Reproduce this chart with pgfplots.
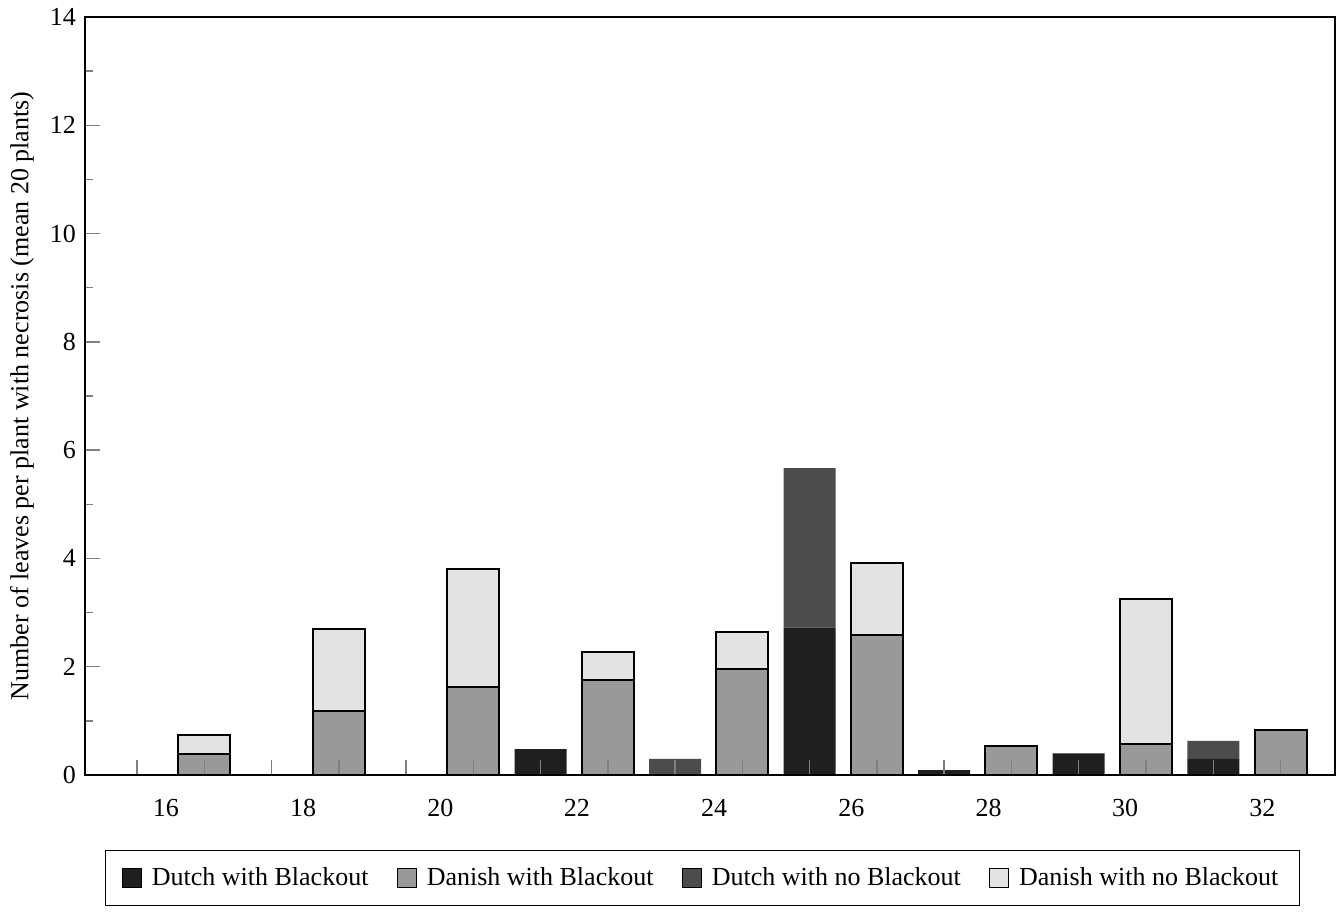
\documentclass[border=0pt]{standalone}
\usepackage{fontspec}
\setmainfont{Liberation Serif}
\usepackage{pgfplots}
\usepackage{pgfplotstable}
\pgfplotsset{compat=1.18}

\definecolor{dutchbo}{gray}{0.12}
\definecolor{dutchnobo}{gray}{0.30}
\definecolor{danishbo}{gray}{0.60}
\definecolor{danishnobo}{gray}{0.89}

% Mean number of necrotic leaves per plant, by week.
% Dutch bars sit at position week-16, Danish bars at week-15.
\pgfplotstableread{
week bo   nobo
22   0.48 0.00
24   0.00 0.30
26   2.72 2.95
28   0.09 0.00
30   0.40 0.00
32   0.30 0.33
}\dutch
\pgfplotstableread{
week bo   nobo
16   0.39 0.34
18   1.19 1.50
20   1.63 2.17
22   1.75 0.52
24   1.96 0.69
26   2.59 1.32
28   0.54 0.00
30   0.57 2.68
32   0.84 0.00
}\danish

\pgfplotsset{
  necrosis/.style={
    scale only axis, width=500pt, height=303.2pt,
    xmin=-0.773, xmax=17.81, ymin=0, ymax=14,
    ybar stacked, bar width=20.8pt,
  },
}

\begin{document}
\fontsize{10.4}{12.5}\selectfont
\begin{tikzpicture}
% Dutch stacks
\begin{axis}[necrosis, hide axis]
  \addplot[fill=dutchbo, draw=none]
    table[x expr=\thisrow{week}-16, y=bo]{\dutch};
  \addplot[fill=dutchnobo, draw=none]
    table[x expr=\thisrow{week}-16, y=nobo]{\dutch};
\end{axis}
% Danish stacks, axes and legend
\begin{axis}[necrosis,
  axis on top,
  axis line style={line width=0.8pt},
  tick align=inside,
  xtick pos=left, ytick pos=left,
  major tick length=6pt, minor tick length=3.2pt,
  xtick={0,...,17}, xticklabels={},
  xtick style={line width=0.6pt},
  extra x ticks={0.43,2.47,4.51,6.54,8.58,10.62,12.66,14.69,16.73},
  extra x tick labels={16,18,20,22,24,26,28,30,32},
  extra x tick style={major tick length=0pt, xtick style={draw=none}},
  xticklabel style={anchor=center, yshift=-13.2pt},
  ytick={0,2,...,14}, minor y tick num=1,
  ytick style={line width=0.6pt},
  /pgf/number format/assume math mode=true,
  ylabel={Number of leaves per plant with necrosis (mean 20 plants)},
  ylabel style={at={(axis description cs:-0.0504,0.5)}, anchor=center},
  legend columns=-1,
  legend image code/.code={\draw[#1, line width=0.5pt] (0pt,-3.8pt) rectangle (7.6pt,3.8pt);},
  legend style={at={(0.494,-0.0989)}, anchor=north, draw=black, line width=0.6pt,
    inner xsep=6.4pt, inner ysep=4.6pt,
    /tikz/every odd column/.append style={column sep=2pt},
    /tikz/every even column/.append style={column sep=9.2pt}},
]
  \addlegendimage{fill=dutchbo, draw=black}
  \addlegendentry{Dutch with Blackout}
  \addplot[fill=danishbo, draw=black, line width=0.8pt]
    table[x expr=\thisrow{week}-15, y=bo]{\danish};
  \addlegendentry{Danish with Blackout}
  \addlegendimage{fill=dutchnobo, draw=black}
  \addlegendentry{Dutch with no Blackout}
  \addplot[fill=danishnobo, draw=black, line width=0.8pt]
    table[x expr=\thisrow{week}-15, y=nobo]{\danish};
  \addlegendentry{Danish with no Blackout}
  \coordinate (bl) at (rel axis cs:0,0);
\end{axis}
\pgfresetboundingbox
\path[shift={(bl)}] (-34pt,-54.4pt) rectangle (502.8pt,310pt);
\end{tikzpicture}
\end{document}
